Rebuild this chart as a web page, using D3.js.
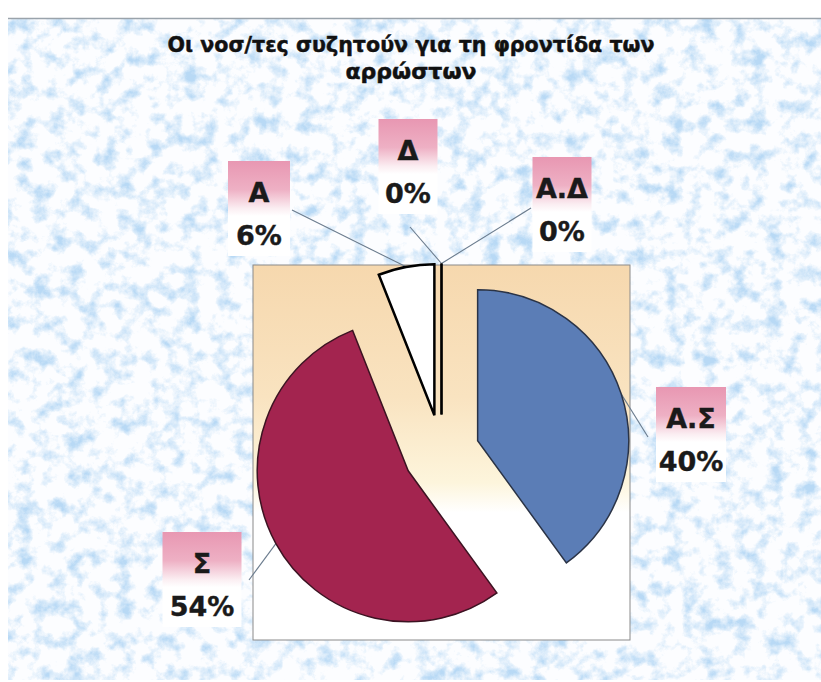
<!DOCTYPE html>
<html><head><meta charset="utf-8">
<script src="https://cdn.jsdelivr.net/npm/d3@7"></script>
<style>html,body{margin:0;padding:0;background:#fff;}svg{display:block;}</style>
</head><body>
<script>
// ---- data ----
const categories = ["Α.Σ", "Σ", "Α", "Δ", "Α.Δ"];
const values = [40, 54, 6, 0, 0];
const titleLines = ["Οι νοσ/τες συζητούν για τη φροντίδα των", "αρρώστων"];

// ---- layout ----
const W = 821, H = 682;
const plot = {x0: 253, y0: 265, x1: 630, y1: 640};
const cx = (plot.x0 + plot.x1) / 2, cy = (plot.y0 + plot.y1) / 2;
const R = 151, explode = 38;
const labelLayout = {
  "Α.Σ": {cx: 691, top: 387, w: 70, end: [648, 437]},
  "Σ":   {cx: 202, top: 532, w: 79, end: [249, 580]},
  "Α":   {cx: 259, top: 161, w: 62, end: [292, 210]},
  "Δ":   {cx: 408, top: 119, w: 59, end: [410, 227]},
  "Α.Δ": {cx: 562, top: 157, w: 59, end: [531, 208]}
};
const sliceFill = {"Α.Σ": "#5b7db6", "Σ": "#a3244f", "Α": "#ffffff", "Δ": "#ffffff", "Α.Δ": "#ffffff"};
const sliceStroke = {"Α.Σ": "#2a3346", "Σ": "#3c1322", "Α": "#000", "Δ": "#000", "Α.Δ": "#000"};
const sliceStrokeW = {"Α.Σ": 1.5, "Σ": 1.5, "Α": 2.5, "Δ": 2.2, "Α.Δ": 2.2};

const svg = d3.select("body").append("svg").attr("width", W).attr("height", H);
const defs = svg.append("defs");

// texture filter
const f = defs.append("filter").attr("id", "tex").attr("x", 0).attr("y", 0).attr("width", 1).attr("height", 1)
  .attr("color-interpolation-filters", "sRGB");
f.append("feTurbulence").attr("type", "fractalNoise").attr("baseFrequency", "0.06").attr("numOctaves", 5).attr("seed", 11).attr("result", "n");
f.append("feColorMatrix").attr("in", "n").attr("type", "matrix")
  .attr("values", "0 0 0 0 0.72  0 0 0 0 0.85  0 0 0 0 0.96  2.8 0 0 0 -1.3").attr("result", "c");
f.append("feComposite").attr("in", "c").attr("in2", "SourceGraphic").attr("operator", "atop");

const pg = defs.append("linearGradient").attr("id", "plotGrad").attr("x1", 0).attr("y1", 0).attr("x2", 0).attr("y2", 1);
pg.append("stop").attr("offset", "0%").attr("stop-color", "#f6d8ae");
pg.append("stop").attr("offset", "35%").attr("stop-color", "#f9e3c0");
pg.append("stop").attr("offset", "58%").attr("stop-color", "#fdf5dc");
pg.append("stop").attr("offset", "66%").attr("stop-color", "#ffffff");
pg.append("stop").attr("offset", "100%").attr("stop-color", "#ffffff");

const lg = defs.append("linearGradient").attr("id", "labGrad").attr("x1", 0).attr("y1", 0).attr("x2", 0).attr("y2", 1);
lg.append("stop").attr("offset", "0%").attr("stop-color", "#e897b2");
lg.append("stop").attr("offset", "30%").attr("stop-color", "#eeb0c4");
lg.append("stop").attr("offset", "50%").attr("stop-color", "#fbeef2");
lg.append("stop").attr("offset", "58%").attr("stop-color", "#ffffff");
lg.append("stop").attr("offset", "100%").attr("stop-color", "#ffffff");

// background
svg.append("rect").attr("width", W).attr("height", H).attr("fill", "#fff");
svg.append("rect").attr("x", 8).attr("y", 18).attr("width", W - 8).attr("height", H - 20)
  .attr("fill", "#fcfdff").attr("filter", "url(#tex)");
svg.append("line").attr("x1", 8).attr("x2", W).attr("y1", 18.5).attr("y2", 18.5).attr("stroke", "#9aa3ab").attr("stroke-width", 1.5);

// title
const title = svg.append("text").attr("text-anchor", "middle")
  .attr("font-family", "DejaVu Sans, sans-serif").attr("font-weight", "bold").attr("font-size", 22)
  .attr("fill", "#111").attr("stroke", "#111").attr("stroke-width", 0.5);
titleLines.forEach((t, i) => {
  const ts = title.append("tspan").attr("x", 411).attr("y", 52 + i * 27).text(t);
  if (i === 0) ts.attr("textLength", 487).attr("lengthAdjust", "spacingAndGlyphs");
});

// plot area
svg.append("rect").attr("x", plot.x0).attr("y", plot.y0).attr("width", plot.x1 - plot.x0).attr("height", plot.y1 - plot.y0)
  .attr("fill", "url(#plotGrad)").attr("stroke", "#8a8a8a").attr("stroke-width", 1);

// pie
const pie = d3.pie().sort(null).value(d => d.v).startAngle(0).endAngle(2 * Math.PI);
const arcs = pie(categories.map((c, i) => ({c, v: values[i]})));
const arc = d3.arc().innerRadius(0).outerRadius(R);
const off = d => {
  const a = (d.startAngle + d.endAngle) / 2;
  return [Math.sin(a) * explode, -Math.cos(a) * explode];
};
// leader lines
const lines = svg.append("g");
arcs.forEach(d => {
  const a = (d.startAngle + d.endAngle) / 2;
  const o = off(d);
  const px = cx + o[0] + Math.sin(a) * R, py = cy + o[1] - Math.cos(a) * R;
  const L = labelLayout[d.data.c];
  lines.append("line").attr("x1", L.end[0]).attr("y1", L.end[1]).attr("x2", px).attr("y2", py)
    .attr("stroke", "#6b7c8e").attr("stroke-width", 1.1);
});
const g = svg.append("g").attr("transform", `translate(${cx},${cy})`);
g.selectAll("path").data(arcs).join("path")
  .attr("transform", d => `translate(${off(d)})`)
  .attr("d", arc)
  .attr("fill", d => sliceFill[d.data.c])
  .attr("stroke", d => sliceStroke[d.data.c])
  .attr("stroke-width", d => sliceStrokeW[d.data.c])
  .attr("stroke-linejoin", "miter");

// labels
arcs.forEach(d => {
  const L = labelLayout[d.data.c];
  const lgp = svg.append("g");
  lgp.append("rect").attr("x", L.cx - L.w / 2).attr("y", L.top).attr("width", L.w).attr("height", 95)
    .attr("fill", "url(#labGrad)");
  const t = lgp.append("text").attr("text-anchor", "middle").attr("font-family", "DejaVu Sans, sans-serif")
    .attr("font-weight", "bold").attr("font-size", 27).attr("fill", "#1a1a1a")
    .attr("stroke", "#1a1a1a").attr("stroke-width", 0.4);
  t.append("tspan").attr("x", L.cx).attr("y", L.top + 41).text(d.data.c);
  t.append("tspan").attr("x", L.cx).attr("y", L.top + 84).text(d3.format(".0%")(d.data.v / d3.sum(values)));
});
</script>
</body></html>
